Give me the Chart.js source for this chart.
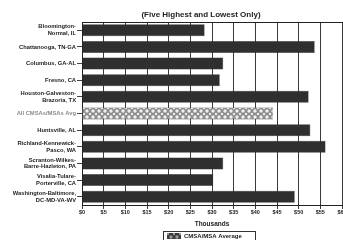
<!DOCTYPE html>
<html>
<head>
<meta charset="utf-8">
<script src="https://cdn.jsdelivr.net/npm/chart.js@4"></script>
<style>
  html, body { margin: 0; padding: 0; background: #fff; overflow: hidden; }
  #wrap { position: relative; width: 352px; height: 240px; }
</style>
</head>
<body>
<div id="wrap"><canvas id="chart"></canvas></div>
<script>
// area labels (two-line ones split as arrays)
const areas = [
  ['Bloomington-', 'Normal, IL'],
  'Chattanooga, TN-GA',
  'Columbus, GA-AL',
  'Fresno, CA',
  ['Houston-Galveston-', 'Brazoria, TX'],
  'All CMSAs/MSAs Avg',
  'Huntsville, AL',
  ['Richland-Kennewick-', 'Pasco, WA'],
  ['Scranton-Wilkes-', 'Barre-Hazleton, PA'],
  ['Visalia-Tulare-', 'Porterville, CA'],
  ['Washington-Baltimore,', 'DC-MD-VA-WV'],
];
// thousands of dollars
const averageValues = [28.3, 53.7, 32.6, 31.8, 52.3, 44.1, 52.7, 56.2, 32.6, 30.3, 49.1];
const averageIndex = 5;
const xTicks = [0, 5, 10, 15, 20, 25, 30, 35, 40, 45, 50, 55, 60];

const FONT = '"Liberation Sans", Arial, sans-serif';

function makePattern(bg, dot) {
  const p = document.createElement('canvas');
  p.width = 6; p.height = 6;
  const g = p.getContext('2d');
  g.fillStyle = bg;
  g.fillRect(0, 0, 6, 6);
  g.fillStyle = dot;
  g.beginPath(); g.arc(3, 3, 1.7, 0, Math.PI * 2); g.fill();
  g.beginPath(); g.arc(0, 0, 1.2, 0, Math.PI * 2); g.fill();
  g.beginPath(); g.arc(6, 0, 1.2, 0, Math.PI * 2); g.fill();
  g.beginPath(); g.arc(0, 6, 1.2, 0, Math.PI * 2); g.fill();
  g.beginPath(); g.arc(6, 6, 1.2, 0, Math.PI * 2); g.fill();
  return g.createPattern(p, 'repeat');
}

const avgPattern = makePattern('#8c8c8c', '#f0f0f0');
const legendPattern = makePattern('#3a3a3a', '#9a9a9a');

const barColors = averageValues.map((v, i) => i === averageIndex ? avgPattern : '#2f2f2f');

// title, top frame line and boxed legend
const decor = {
  id: 'decor',
  afterDraw(chart) {
    const ctx = chart.ctx;
    const a = chart.chartArea;
    ctx.save();
    ctx.strokeStyle = '#222';
    ctx.lineWidth = 1;
    ctx.beginPath();
    ctx.moveTo(a.left, a.top + 0.5);
    ctx.lineTo(chart.width, a.top + 0.5);
    ctx.stroke();

    ctx.fillStyle = '#222';
    ctx.font = 'bold 8px ' + FONT;
    ctx.textAlign = 'center';
    ctx.textBaseline = 'middle';
    ctx.fillText('(Five Highest and Lowest Only)', 201, 15);

    // legend
    ctx.strokeStyle = '#333';
    ctx.strokeRect(163.5, 231.5, 92, 14);
    ctx.fillStyle = legendPattern;
    ctx.fillRect(167, 233, 14, 6);
    ctx.fillStyle = '#222';
    ctx.font = 'bold 6px ' + FONT;
    ctx.textAlign = 'left';
    ctx.fillText('CMSA/MSA Average', 184, 236.5);
    ctx.restore();
  }
};

new Chart(document.getElementById('chart'), {
  type: 'bar',
  data: {
    labels: areas,
    datasets: [{
      label: 'CMSA/MSA Average',
      data: averageValues,
      backgroundColor: barColors,
      borderColor: averageValues.map((v, i) => i === averageIndex ? '#555' : '#2f2f2f'),
      borderWidth: 0.5,
      categoryPercentage: 1,
      barPercentage: 0.72,
    }],
  },
  options: {
    indexAxis: 'y',
    responsive: true,
    maintainAspectRatio: false,
    animation: false,
    layout: { padding: { top: 22, right: 10, bottom: 11, left: 0 } },
    plugins: {
      legend: { display: false },
      tooltip: { enabled: false },
    },
    scales: {
      x: {
        min: 0,
        max: 60,
        afterFit: s => { s.height = 24; },
        afterBuildTicks: s => { s.ticks = xTicks.map(v => ({ value: v })); },
        ticks: {
          autoSkip: false,
          maxRotation: 0,
          padding: 0,
          color: '#222',
          font: { family: FONT, size: 5.5, weight: 'bold' },
          callback: v => '$' + v,
        },
        grid: { color: '#3a3a3a', lineWidth: 1, tickLength: 4 },
        border: { color: '#222', width: 1 },
        title: {
          display: true,
          text: 'Thousands',
          color: '#222',
          font: { family: FONT, size: 6.5, weight: 'bold' },
          padding: { top: 0, bottom: 1 },
        },
      },
      y: {
        afterFit: s => { s.width = 82; },
        ticks: {
          autoSkip: false,
          padding: 1,
          color: ctx => ctx.index === averageIndex ? '#8a8a8a' : '#222',
          font: { family: FONT, size: 5.8, weight: 'bold', lineHeight: 1.2 },
        },
        grid: { drawOnChartArea: false, offset: false, tickLength: 5, color: '#444' },
        border: { color: '#222', width: 1 },
      },
    },
  },
  plugins: [decor],
});
</script>
</body>
</html>
